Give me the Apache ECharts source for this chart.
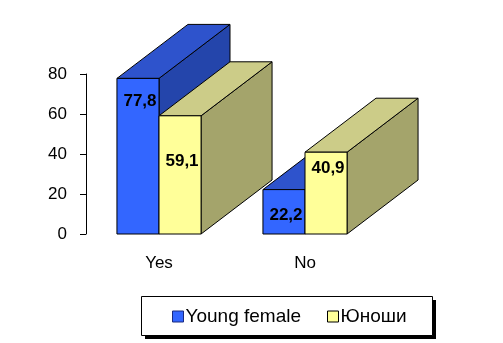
<!DOCTYPE html>
<html>
<head>
<meta charset="utf-8">
<script src="https://cdn.jsdelivr.net/npm/echarts@6/dist/echarts.min.js"></script>
<style>
  html, body { margin: 0; padding: 0; background: #ffffff; }
  #chart { width: 503px; height: 343px; }
</style>
</head>
<body>
<div id="chart"></div>
<script>
// Survey answers, percent
const categories = ['Yes', 'No'];
const seriesNames = ['Young female', 'Юноши'];
const youngFemale = [77.8, 22.2];
const yunoshi = [59.1, 40.9];
const yTicks = [0, 20, 40, 60, 80];

// Box shading: front, top, side
const PALETTE = [
  { front: '#3366FF', top: '#2E53CC', side: '#2445AB' },
  { front: '#FFFF99', top: '#CCCC88', side: '#A4A46B' }
];
const FONT = 'Arial, "Liberation Sans", sans-serif';
const DEPTH_X = 71;
const DEPTH_Y = 54;
// Vertical placement of value labels below each bar top (px), per series / category
const LABEL_DROP = [[23, 26], [46, 16]];

function fmt(v) { return String(v).replace('.', ','); }

function makeRender(si) {
  const pal = PALETTE[si];
  return function (params, api) {
    const cat = api.value(0);
    const val = api.value(1);
    const base = api.coord([cat, 0]);
    const top = api.coord([cat, val]);
    const bw = api.size([1, 0])[0] * 0.288;
    const x0 = si === 0 ? base[0] - bw : base[0];
    const x1 = x0 + bw;
    const y0 = base[1];
    const y1 = top[1];
    const line = { stroke: '#000', lineWidth: 1, lineJoin: 'round' };
    return {
      type: 'group',
      children: [
        {
          type: 'polygon',
          shape: { points: [[x1, y1], [x1 + DEPTH_X, y1 - DEPTH_Y], [x1 + DEPTH_X, y0 - DEPTH_Y], [x1, y0]] },
          style: Object.assign({ fill: pal.side }, line)
        },
        {
          type: 'polygon',
          shape: { points: [[x0, y1], [x1, y1], [x1 + DEPTH_X, y1 - DEPTH_Y], [x0 + DEPTH_X, y1 - DEPTH_Y]] },
          style: Object.assign({ fill: pal.top }, line)
        },
        {
          type: 'rect',
          shape: { x: x0, y: y1, width: bw, height: y0 - y1 },
          style: Object.assign({ fill: pal.front }, line)
        },
        {
          type: 'text',
          x: (x0 + x1) / 2 + 2,
          y: y1 + LABEL_DROP[si][params.dataIndex],
          style: {
            text: fmt(val),
            fill: '#000',
            font: 'bold 17px ' + FONT,
            align: 'center',
            verticalAlign: 'middle'
          }
        }
      ]
    };
  };
}

const chart = echarts.init(document.getElementById('chart'), null, { renderer: 'canvas' });

chart.setOption({
  animation: false,
  backgroundColor: '#ffffff',
  grid: { left: 86, right: 125, top: 74, bottom: 109 },
  xAxis: {
    type: 'category',
    data: categories,
    axisLine: { show: false },
    axisTick: { show: false },
    axisLabel: { color: '#000', fontSize: 17, fontFamily: FONT, margin: 21 }
  },
  yAxis: {
    type: 'value',
    min: yTicks[0],
    max: yTicks[yTicks.length - 1],
    interval: 20,
    axisLine: { show: true, lineStyle: { color: '#000', width: 1 } },
    axisTick: { show: true, inside: false, length: 6, lineStyle: { color: '#000' } },
    splitLine: { show: false },
    axisLabel: { color: '#000', fontSize: 17, fontFamily: FONT, margin: 19 }
  },
  // Legend frame with a hard drop shadow
  graphic: [
    { type: 'rect', left: 145, top: 300, shape: { width: 291, height: 39 }, style: { fill: '#000' }, z: 10 },
    { type: 'rect', left: 141, top: 296, shape: { width: 291, height: 39 }, style: { fill: '#fff', stroke: '#000', lineWidth: 1 }, z: 11 }
  ],
  legend: {
    left: 172,
    top: 307,
    z: 20,
    orient: 'horizontal',
    padding: 0,
    itemGap: 26,
    itemWidth: 11,
    itemHeight: 11,
    textStyle: { color: '#000', fontSize: 19, fontFamily: FONT, padding: [0, 0, 0, -3] },
    data: [
      { name: seriesNames[0], icon: 'rect', itemStyle: { color: PALETTE[0].front, borderColor: '#1a2a80', borderWidth: 1 } },
      { name: seriesNames[1], icon: 'rect', itemStyle: { color: PALETTE[1].front, borderColor: '#000', borderWidth: 1 } }
    ]
  },
  series: [
    {
      type: 'custom',
      name: seriesNames[0],
      clip: false,
      itemStyle: { color: PALETTE[0].front },
      renderItem: makeRender(0),
      encode: { x: 0, y: 1 },
      data: youngFemale.map((v, i) => [i, v])
    },
    {
      type: 'custom',
      name: seriesNames[1],
      clip: false,
      itemStyle: { color: PALETTE[1].front },
      renderItem: makeRender(1),
      encode: { x: 0, y: 1 },
      data: yunoshi.map((v, i) => [i, v])
    }
  ]
});
</script>
</body>
</html>
